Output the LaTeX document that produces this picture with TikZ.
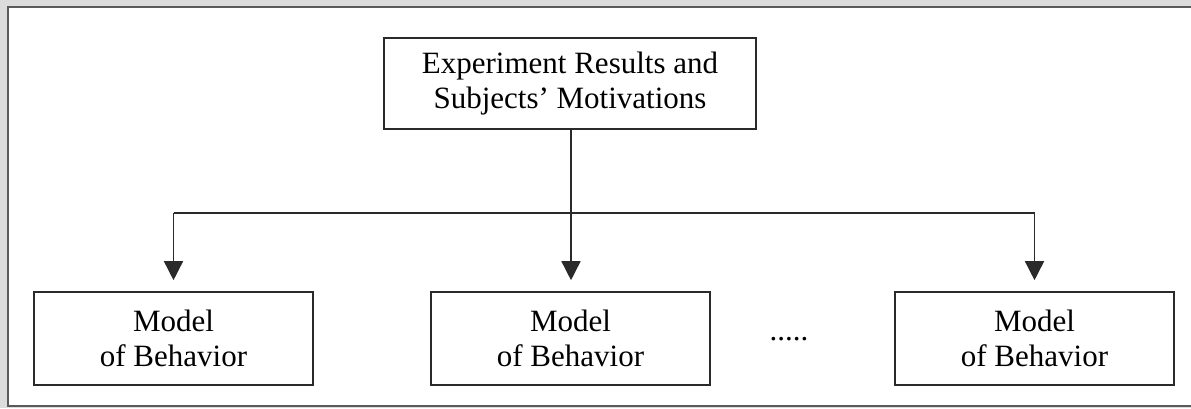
\documentclass[tikz,border=0pt]{standalone}
\usepackage{fontspec}
\setmainfont{Liberation Serif}
\usetikzlibrary{arrows.meta}
\definecolor{framegray}{HTML}{5A5A5A}
\definecolor{shadowgray}{HTML}{DCDCDC}
\definecolor{linegray}{HTML}{2A2A2A}
\tikzset{
  box/.style={draw=linegray, line width=1.6pt, align=center, inner sep=0pt,
    font=\fontsize{31}{34.5}\selectfont},
  topbox/.style={box, minimum width=372pt, minimum height=91pt},
  modelbox/.style={box, minimum width=279pt, minimum height=93pt},
  conn/.style={draw=linegray, line width=1.5pt},
  arr/.style={conn, -{Triangle[length=19pt,width=19pt]}, shorten >=11pt}
}
\begin{document}
\begin{tikzpicture}[x=1pt,y=-1pt]
\useasboundingbox (0,0) rectangle (1191,408);
% shadow and outer frame
\fill[shadowgray] (0,0) rectangle (1191,408);
\fill[white, draw=framegray, line width=2.4pt] (8,7) rectangle (1200,406);
% nodes
\node[topbox] (top) at (570,83.5) {Experiment Results and\\Subjects’ Motivations};
\node[modelbox] (m1) at (173.5,338.5) {Model\\of Behavior};
\node[modelbox] (m2) at (570.5,338.5) {Model\\of Behavior};
\node[modelbox] (m3) at (1034.5,338.5) {Model\\of Behavior};
\node[font=\fontsize{31}{34.5}\selectfont, inner sep=0pt, anchor=base] (dots) at (789,340) {.....};
% connectors
\coordinate (j) at (571,213);
\draw[conn] (top.south -| j) -- (j);
\draw[conn] (m1.north |- j) -- (m3.north |- j);
\draw[arr] (m1.north |- j) -- (m1.north);
\draw[arr] (j) -- (j |- m2.north);
\draw[arr] (m3.north |- j) -- (m3.north);
\end{tikzpicture}
\end{document}
